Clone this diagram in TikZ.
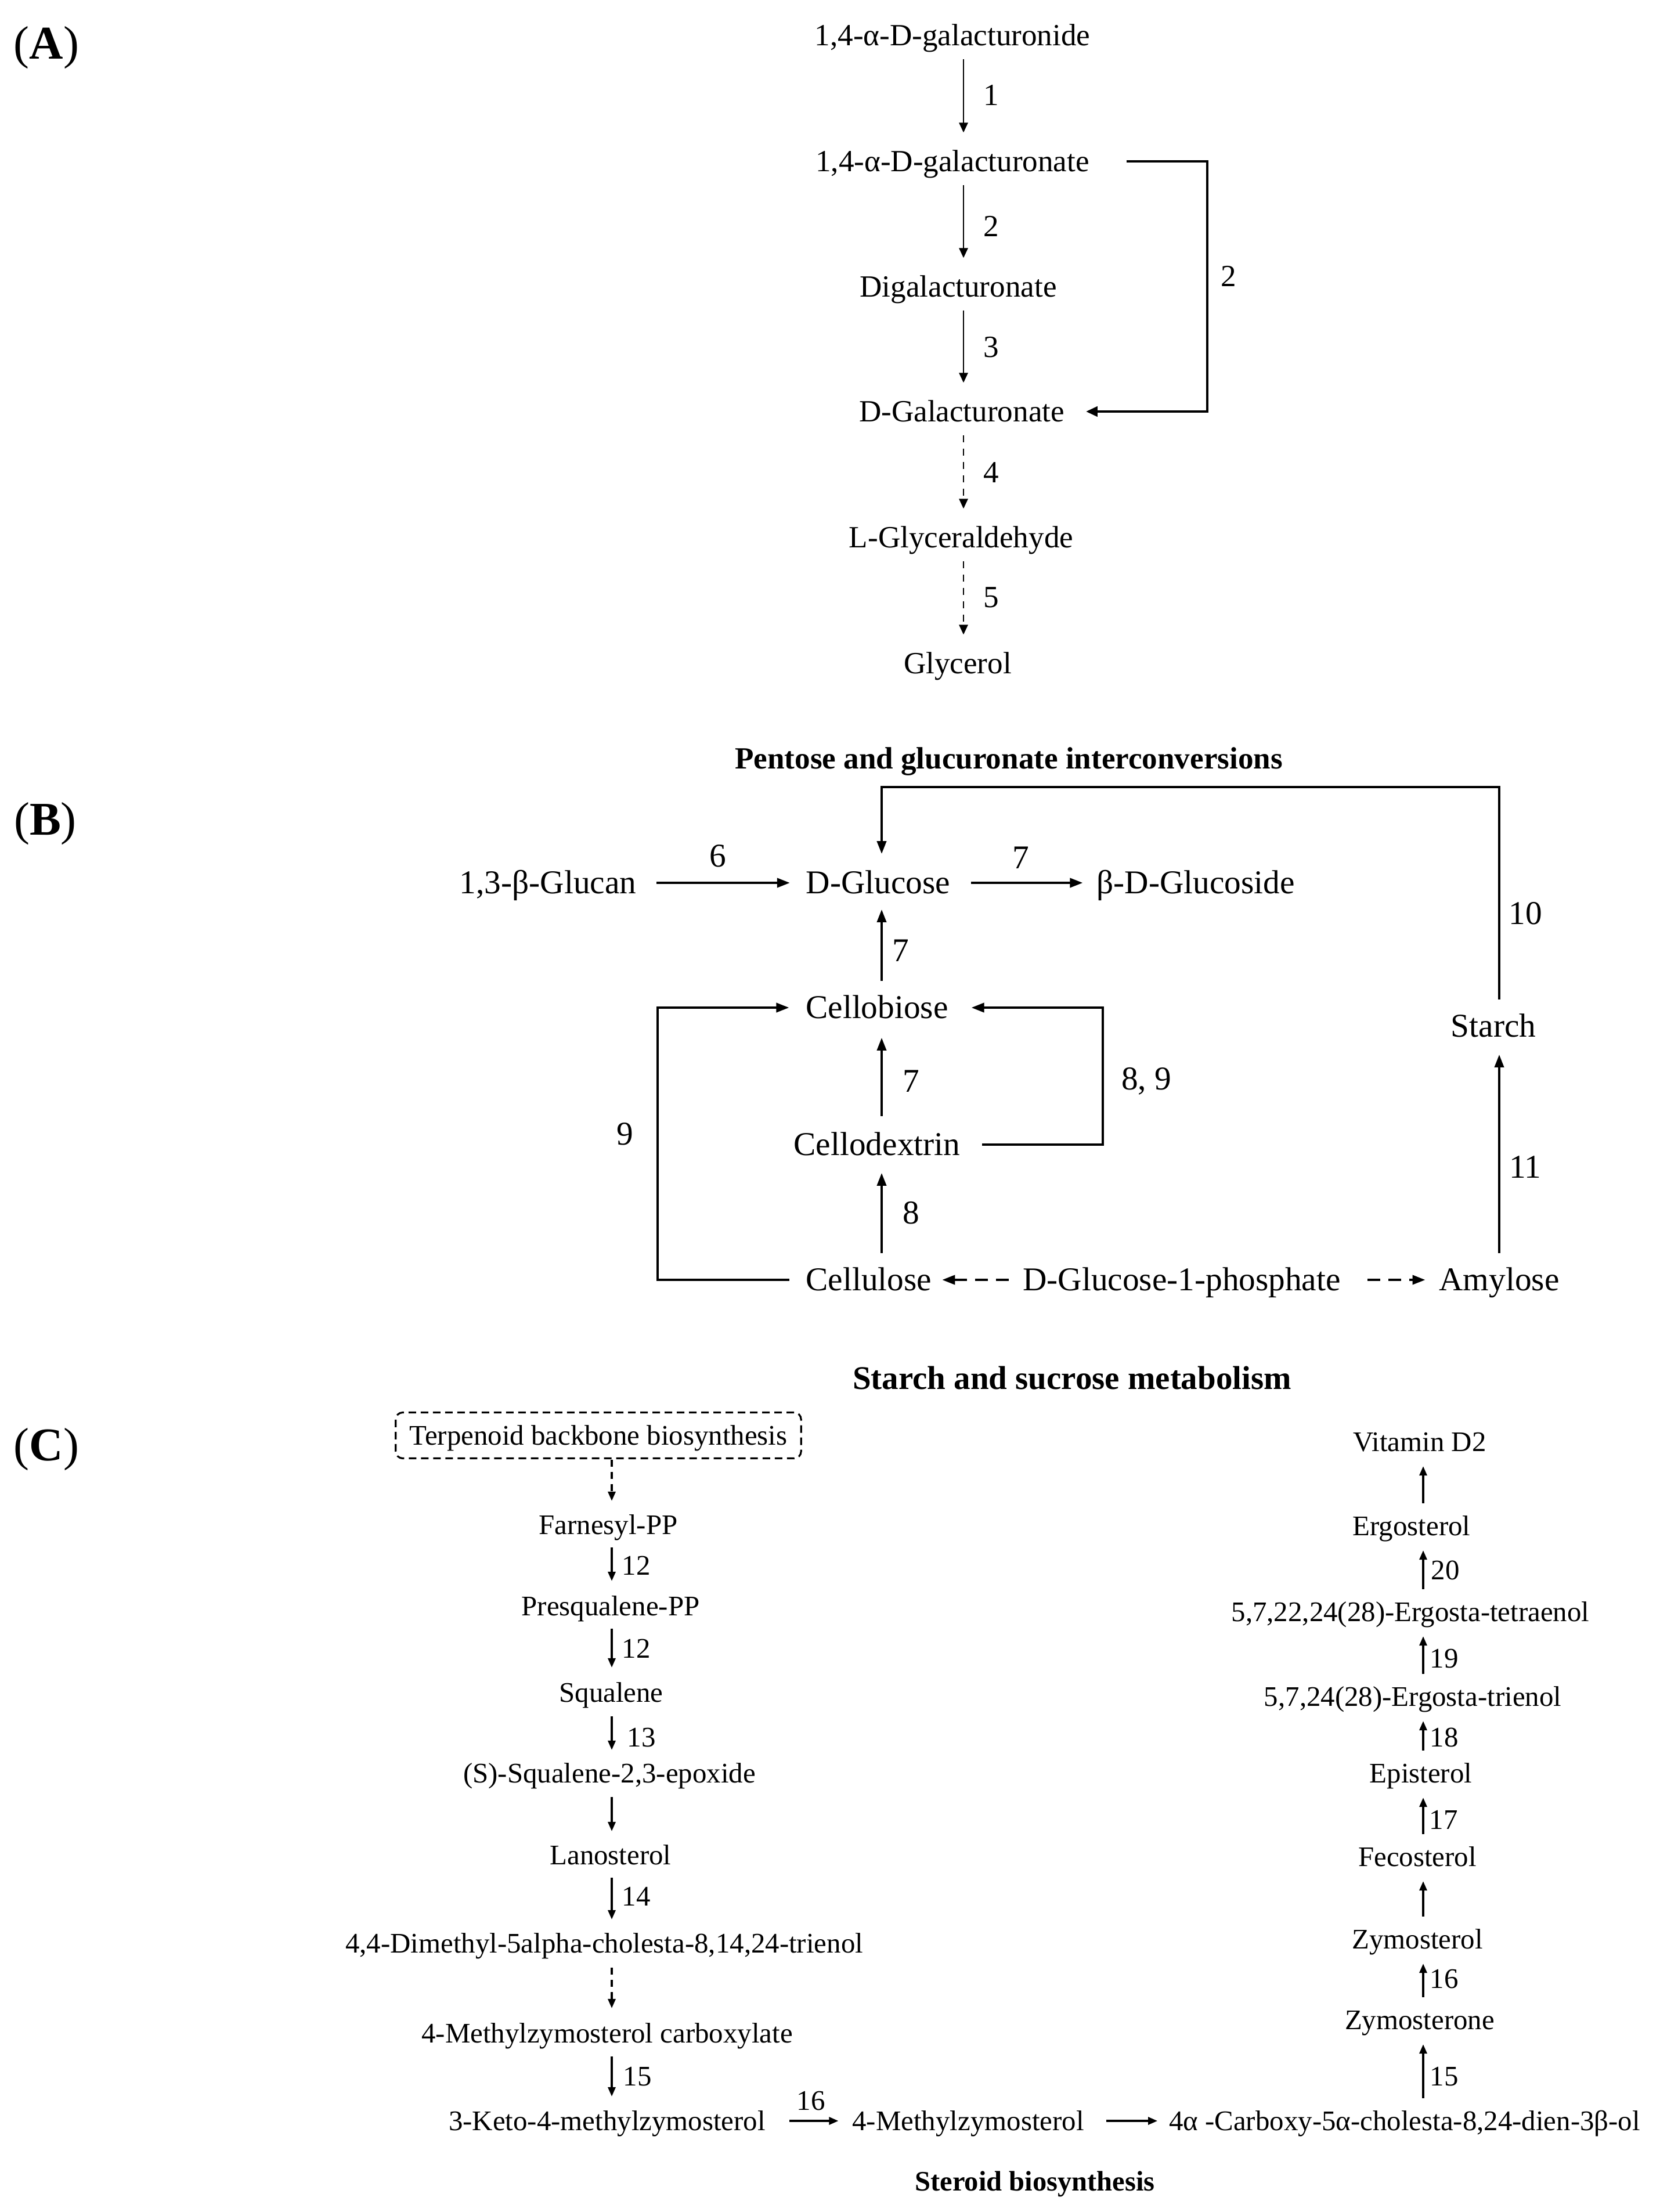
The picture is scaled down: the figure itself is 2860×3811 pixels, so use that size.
\documentclass[tikz,border=0pt]{standalone}
\usepackage{fontspec}
\setmainfont{Liberation Serif}
\usetikzlibrary{arrows.meta,calc}
\tikzset{
  fa/.style={inner sep=0pt, outer sep=0pt, text depth=0pt, text height=10pt, font=\fontsize{15.1pt}{18pt}\selectfont},
  fb/.style={inner sep=0pt, outer sep=0pt, text depth=0pt, text height=10.76pt, font=\fontsize{16.3pt}{19pt}\selectfont},
  fc/.style={inner sep=0pt, outer sep=0pt, text depth=0pt, text height=9.17pt, font=\fontsize{13.9pt}{16pt}\selectfont},
  ttlB/.style={inner sep=0pt, text depth=0pt, text height=10pt, font=\bfseries\fontsize{15.1pt}{18pt}\selectfont},
  ttlS/.style={inner sep=0pt, text depth=0pt, text height=10.7pt, font=\bfseries\fontsize{16.2pt}{19pt}\selectfont},
  ttlC/.style={inner sep=0pt, text depth=0pt, text height=9.1pt, font=\bfseries\fontsize{13.8pt}{16pt}\selectfont},
  plab/.style={inner sep=0pt, text depth=0pt, text height=15.2pt, font=\fontsize{23pt}{27pt}\selectfont},
  arrA/.style={line width=0.8pt, -{Triangle[length=0.17cm,width=0.15cm]}, shorten <=0.23cm, shorten >=0.32cm},
  dashA/.style={dash pattern=on 0.12cm off 0.11cm},
  brA/.style={line width=1.3pt, -{Triangle[length=0.2cm,width=0.17cm]}},
  arrB/.style={line width=1.1pt, -{Triangle[length=0.22cm,width=0.16cm]}},
  lineB/.style={line width=1.1pt},
  dashB/.style={dash pattern=on 0.22cm off 0.14cm},
  arrC/.style={line width=0.9pt, -{Triangle[length=0.16cm,width=0.13cm]}},
  dashC/.style={dash pattern=on 0.12cm off 0.09cm},
}
\begin{document}
\begin{tikzpicture}[x=0.01cm, y=-0.01cm]
\fill[white] (0,0) rectangle (2860,3811);
\useasboundingbox (0,0) rectangle (2860,3811);

% ---------------- Panel A ----------------
\node[plab] (pA) at (80,75) {(\textbf{A})};
\coordinate (cA) at (1660,0);
\coordinate (bx) at (2080,0);
\node[fa] (a1) at (1641,61) {1,4-α-D-galacturonide};
\node[fa] (a2) at (1641,278) {1,4-α-D-galacturonate};
\node[fa] (a3) at (1651,494) {Digalacturonate};
\node[fa] (a4) at (1657,709) {D-Galacturonate};
\node[fa] (a5) at (1656,926) {L-Glyceraldehyde};
\node[fa] (a6) at (1650,1143) {Glycerol};

\draw[arrA] (a1.south -| cA) -- (a2.north -| cA);
\draw[arrA] (a2.south -| cA) -- (a3.north -| cA);
\draw[arrA] (a3.south -| cA) -- (a4.north -| cA);
\draw[arrA, dashA] (a4.south -| cA) -- (a5.north -| cA);
\draw[arrA, dashA] (a5.south -| cA) -- (a6.north -| cA);
\draw[brA] ([xshift=0.64cm]a2.east) -- (a2.east -| bx) -- (a4.east -| bx) -- ([xshift=0.37cm]a4.east);

\node[fa] (la1) at (1708,164) {1};
\node[fa] (la2) at (1708,390) {2};
\node[fa] (la3) at (1708,598) {3};
\node[fa] (la4) at (1708,814) {4};
\node[fa] (la5) at (1708,1029) {5};
\node[fa] (la2b) at (2117,476) {2};

% ---------------- Panel B ----------------
\node[ttlB] (tB) at (1738,1307) {Pentose and glucuronate interconversions};
\node[plab] (pB) at (78,1412) {(\textbf{B})};
\coordinate (cB) at (1519,0);
\coordinate (cS) at (2583,0);
\coordinate (topB) at (0,1356);
\coordinate (lx) at (1133,0);
\coordinate (rx) at (1900,0);

\node[fb] (glucan) at (944,1521) {1,3-β-Glucan};
\node[fb] (glc) at (1513,1521) {D-Glucose};
\node[fb] (gls) at (2060,1521) {β-D-Glucoside};
\node[fb] (cbi) at (1511,1736) {Cellobiose};
\node[fb] (cdx) at (1511,1972) {Cellodextrin};
\node[fb] (cel) at (1497,2205) {Cellulose};
\node[fb] (g1p) at (2036,2205) {D-Glucose-1-phosphate};
\node[fb] (amy) at (2583,2205) {Amylose};
\node[fb] (sta) at (2573,1768) {Starch};

\draw[arrB, shorten <=0.35cm, shorten >=0.28cm] (glucan.east) -- (glc.west);
\draw[arrB, shorten <=0.36cm, shorten >=0.24cm] (glc.east) -- (gls.west);
\draw[arrB, shorten <=0.27cm, shorten >=0.27cm] (cbi.north -| cB) -- (glc.south -| cB);
\draw[arrB, shorten <=0.30cm, shorten >=0.33cm] (cdx.north -| cB) -- (cbi.south -| cB);
\draw[arrB, shorten <=0.27cm, shorten >=0.30cm] (cel.north -| cB) -- (cdx.south -| cB);
\draw[arrB, shorten <=0.27cm, shorten >=0.30cm] (amy.north -| cS) -- (sta.south -| cS);
\draw[arrB] ([xshift=-0.29cm]cel.west) -| (lx |- cbi) -- ([xshift=-0.29cm]cbi.west);
\draw[arrB] ([xshift=0.38cm]cdx.east) -| (rx |- cbi) -- ([xshift=0.40cm]cbi.east);
\draw[arrB] ([yshift=0.27cm]sta.north -| cS) -- (cS |- topB) -- (cB |- topB) -- ([yshift=0.31cm]glc.north -| cB);
\draw[arrB, dashB, shorten <=0.24cm, shorten >=0.18cm] (g1p.west) -- (cel.east);
\draw[arrB, dashB, shorten <=0.46cm, shorten >=0.24cm] (g1p.east) -- (amy.west);

\node[fb] (lb6) at (1237,1475) {6};
\node[fb] (lb7a) at (1759,1478) {7};
\node[fb] (lb7b) at (1552,1638) {7};
\node[fb] (lb7c) at (1570,1863) {7};
\node[fb] (lb8) at (1570,2090) {8};
\node[fb] (lb9) at (1077,1954) {9};
\node[fb] (lb89) at (1975,1859) {8, 9};
\node[fb] (lb10) at (2628,1574) {10};
\node[fb] (lb11) at (2628,2011) {11};

\node[ttlS] (tS) at (1847,2375) {Starch and sucrose metabolism};

% ---------------- Panel C ----------------
\node[plab] (pC) at (80,2490) {(\textbf{C})};
\coordinate (cC) at (1054,0);
\coordinate (cD) at (2452,0);

\node[fc, draw, line width=0.9pt, dash pattern=on 0.13cm off 0.08cm, rounded corners=0.12cm,
      minimum width=6.98cm, minimum height=0.79cm] (terp) at (1031,2473) {Terpenoid backbone biosynthesis};
\node[fc] (far) at (1048,2627) {Farnesyl-PP};
\node[fc] (pre) at (1052,2767) {Presqualene-PP};
\node[fc] (sq) at (1053,2916) {Squalene};
\node[fc] (epo) at (1050,3055) {(S)-Squalene-2,3-epoxide};
\node[fc] (lan) at (1052,3196) {Lanosterol};
\node[fc] (dim) at (1041,3348) {4,4-Dimethyl-5alpha-cholesta-8,14,24-trienol};
\node[fc] (mzc) at (1046,3503) {4-Methylzymosterol carboxylate};
\node[fc] (keto) at (1046,3654) {3-Keto-4-methylzymosterol};
\node[fc] (mz) at (1668,3654) {4-Methylzymosterol};
\node[fc] (carb) at (2420,3654) {4α -Carboxy-5α-cholesta-8,24-dien-3β-ol};
\node[fc] (zone) at (2446,3480) {Zymosterone};
\node[fc] (zol) at (2442,3341) {Zymosterol};
\node[fc] (fec) at (2442,3199) {Fecosterol};
\node[fc] (epi) at (2448,3055) {Episterol};
\node[fc] (tri) at (2434,2923) {5,7,24(28)-Ergosta-trienol};
\node[fc] (tet) at (2430,2777) {5,7,22,24(28)-Ergosta-tetraenol};
\node[fc] (erg) at (2432,2629) {Ergosterol};
\node[fc] (vit) at (2446,2484) {Vitamin D2};

\draw[arrC, dashC, shorten <=0.02cm, shorten >=0.25cm] (terp.south -| cC) -- (far.north -| cC);
\draw[arrC, shorten <=0.23cm, shorten >=0.27cm] (far.south -| cC) -- (pre.north -| cC);
\draw[arrC, shorten <=0.23cm, shorten >=0.27cm] (pre.south -| cC) -- (sq.north -| cC);
\draw[arrC, shorten <=0.25cm, shorten >=0.24cm] (sq.south -| cC) -- (epo.north -| cC);
\draw[arrC, shorten <=0.25cm, shorten >=0.25cm] (epo.south -| cC) -- (lan.north -| cC);
\draw[arrC, shorten <=0.23cm, shorten >=0.25cm] (lan.south -| cC) -- (dim.north -| cC);
\draw[arrC, dashC, shorten <=0.26cm, shorten >=0.27cm] (dim.south -| cC) -- (mzc.north -| cC);
\draw[arrC, shorten <=0.24cm, shorten >=0.26cm] (mzc.south -| cC) -- (keto.north -| cC);
\draw[arrC, shorten <=0.41cm, shorten >=0.24cm] (keto.east) -- (mz.west);
\draw[arrC, shorten <=0.38cm, shorten >=0.2cm] (mz.east) -- (carb.west);

\draw[arrC, shorten <=0.23cm, shorten >=0.26cm] (carb.north -| cD) -- (zone.south -| cD);
\draw[arrC, shorten <=0.23cm, shorten >=0.26cm] (zone.north -| cD) -- (zol.south -| cD);
\draw[arrC, shorten <=0.23cm, shorten >=0.26cm] (zol.north -| cD) -- (fec.south -| cD);
\draw[arrC, shorten <=0.23cm, shorten >=0.26cm] (fec.north -| cD) -- (epi.south -| cD);
\draw[arrC, shorten <=0.23cm, shorten >=0.26cm] (epi.north -| cD) -- (tri.south -| cD);
\draw[arrC, shorten <=0.23cm, shorten >=0.26cm] (tri.north -| cD) -- (tet.south -| cD);
\draw[arrC, shorten <=0.23cm, shorten >=0.26cm] (tet.north -| cD) -- (erg.south -| cD);
\draw[arrC, shorten <=0.23cm, shorten >=0.26cm] (erg.north -| cD) -- (vit.south -| cD);

\node[fc] (lc12a) at (1096,2697) {12};
\node[fc] (lc12b) at (1096,2840) {12};
\node[fc] (lc13) at (1105,2993) {13};
\node[fc] (lc14) at (1096,3267) {14};
\node[fc] (lc15a) at (1098,3577) {15};
\node[fc] (lc16a) at (1397,3619) {16};
\node[fc] (lc20) at (2490,2705) {20};
\node[fc] (lc19) at (2488,2857) {19};
\node[fc] (lc18) at (2488,2993) {18};
\node[fc] (lc17) at (2487,3135) {17};
\node[fc] (lc16b) at (2488,3409) {16};
\node[fc] (lc15b) at (2488,3577) {15};

\node[ttlC] (tC) at (1783,3758) {Steroid biosynthesis};
\end{tikzpicture}
\end{document}
